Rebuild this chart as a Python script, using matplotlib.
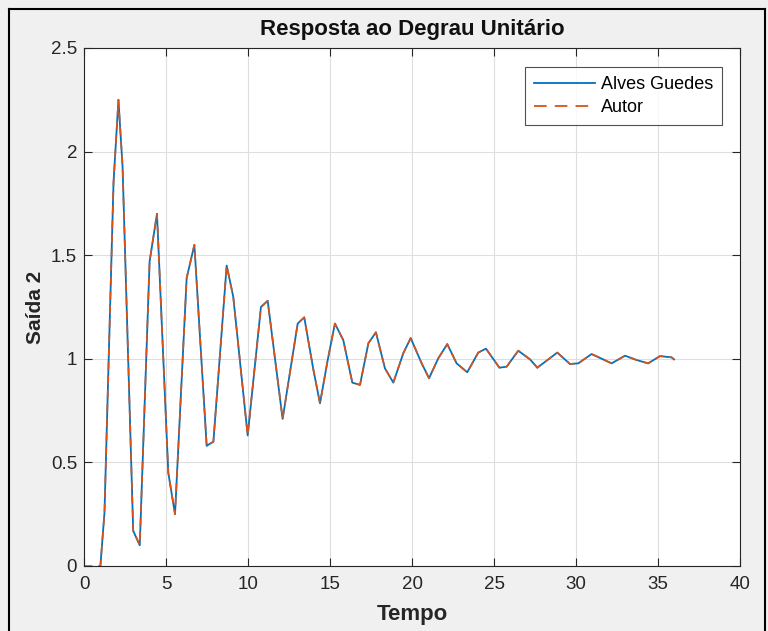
import matplotlib
matplotlib.use("Agg")
import matplotlib.pyplot as plt
from matplotlib.lines import Line2D

# Step response samples (time, output)
t_guedes = [1.0, 1.25, 1.80, 2.10, 2.35, 3.00, 3.40, 4.00, 4.45, 5.14, 5.55,
            6.26, 6.73, 7.48, 7.89, 8.70, 9.10, 9.98, 10.79, 11.20, 12.11,
            13.03, 13.43, 13.98, 14.39, 14.85, 15.30, 15.81, 16.36, 16.83,
            17.34, 17.80, 18.35, 18.86, 19.47, 19.92, 20.59, 21.04, 21.60,
            22.15, 22.72, 23.37, 24.04, 24.51, 25.33, 25.77, 26.48, 27.20,
            27.64, 28.86, 29.63, 30.14, 30.95, 32.17, 32.99, 33.70, 34.40,
            35.12, 35.83, 35.98]
y_guedes = [0.0, 0.26, 1.85, 2.25, 1.93, 0.17, 0.10, 1.47, 1.70, 0.45, 0.25,
            1.39, 1.55, 0.58, 0.60, 1.45, 1.30, 0.63, 1.25, 1.28, 0.71,
            1.17, 1.20, 0.95, 0.785, 0.99, 1.17, 1.09, 0.885, 0.874,
            1.075, 1.128, 0.954, 0.885, 1.027, 1.10, 0.978, 0.906, 1.002,
            1.071, 0.978, 0.935, 1.03, 1.049, 0.957, 0.962, 1.039, 0.997,
            0.957, 1.03, 0.975, 0.978, 1.023, 0.978, 1.015, 0.994, 0.978,
            1.013, 1.007, 0.997]

t_autor = [0.0] + t_guedes
y_autor = [0.0] + y_guedes

x_ticks = [0, 5, 10, 15, 20, 25, 30, 35, 40]
y_ticks = [0, 0.5, 1, 1.5, 2, 2.5]
y_tick_labels = ['0', '0.5', '1', '1.5', '2', '2.5']

plt.rcParams['font.family'] = ['Liberation Sans', 'DejaVu Sans']

W, H = 768, 631
fig = plt.figure(figsize=(W / 100, H / 100), dpi=100)
fig.patch.set_facecolor('#f0f0f0')

ax = fig.add_axes([84 / W, 1 - 566 / H, (740 - 84) / W, (566 - 48) / H])
ax.set_facecolor('white')

blue = '#0072BD'
orange = '#D95319'
dash = (0, (5, 3.5))
ax.plot(t_guedes, y_guedes, color=blue, lw=1.3, label='Alves Guedes')
ax.plot(t_autor, y_autor, color=orange, lw=1.2, ls=dash, label='Autor')

ax.set_xlim(0, 40)
ax.set_ylim(0, 2.5)
ax.set_xticks(x_ticks)
ax.set_yticks(y_ticks)
ax.set_xticklabels([str(v) for v in x_ticks])
ax.set_yticklabels(y_tick_labels)
ax.grid(True, color='#dedede', lw=0.8)
ax.set_axisbelow(True)
ax.tick_params(direction='in', length=6, width=0.8, colors='#262626',
               labelsize=13.5, top=True, right=True)
ax.tick_params(axis='x', pad=7)
ax.tick_params(axis='y', pad=5)
for s in ax.spines.values():
    s.set_color('#262626')
    s.set_linewidth(0.8)

ax.set_title('Resposta ao Degrau Unitário', fontsize=16, fontweight='bold',
             color='#111111', pad=9)
ax.set_xlabel('Tempo', fontsize=16, fontweight='bold', color='#262626', labelpad=8)
ax.set_ylabel('Saída 2', fontsize=15, fontweight='bold', color='#262626', labelpad=4)

handles = [Line2D([], [], color=blue, lw=1.3),
           Line2D([], [], color=orange, lw=1.3, ls=(0, (7, 4.5)))]
leg = ax.legend(handles, ['Alves Guedes', 'Autor'], loc='upper right',
                bbox_to_anchor=(722 / W, 1 - 67 / H), bbox_transform=fig.transFigure,
                fontsize=13, frameon=True, fancybox=False, handlelength=3.4,
                borderpad=0.5, labelspacing=0.35, handletextpad=0.3,
                borderaxespad=0)
leg.get_frame().set_edgecolor('#262626')
leg.get_frame().set_linewidth(0.8)

# outer frame around the figure
for (x0, y0, x1, y1) in [(9, 9, 9, H), (9, 9, 765, 9), (765, 9, 765, H)]:
    fig.add_artist(Line2D([x0 / W, x1 / W], [1 - y0 / H, 1 - y1 / H],
                          transform=fig.transFigure, color='black', lw=1.5))

fig.savefig('out.png', dpi=100, facecolor=fig.get_facecolor())
